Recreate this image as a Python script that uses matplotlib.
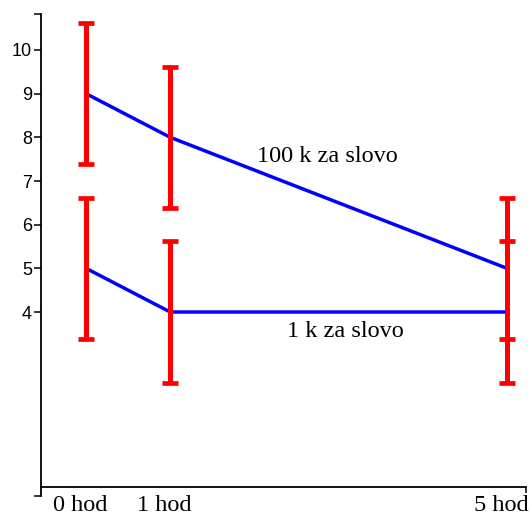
import matplotlib
matplotlib.use("Agg")
import matplotlib.pyplot as plt
import matplotlib.transforms as mtransforms

# data
hours = [0, 1, 5]
hour_labels = ["0 hod", "1 hod", "5 hod"]
mean_100k = [9, 8, 5]
err_100k = [1.62, 1.62, 1.62]
mean_1k = [5, 4, 4]
err_1k = [1.62, 1.62, 1.62]
y_ticks = [4, 5, 6, 7, 8, 9, 10]

fig = plt.figure(figsize=(5.32, 5.18), dpi=100)
xlo, xhi = -0.535, 5.25
ylo, yhi = -0.25, 10.85
left = 41 / 532
right = (86 + xhi * 84.2) / 532
top = 1 - (50 - (yhi - 10) * 43.67) / 518
bottom = 1 - (312 + (4 - ylo) * 43.67) / 518
ax = fig.add_axes([left, bottom, right - left, top - bottom])
ax.set_xlim(xlo, xhi)
ax.set_ylim(ylo, yhi)

for m, e in [(mean_100k, err_100k), (mean_1k, err_1k)]:
    ax.plot(hours, m, color="blue", lw=2.5, zorder=2, solid_capstyle="butt")
    ax.errorbar(hours, m, yerr=e, fmt="none", ecolor="red", elinewidth=3.6,
                capsize=6, capthick=3.4, zorder=3)

ax.text(2.87, 7.55, "100 k za slovo", ha="center", va="center",
        family="Liberation Serif", fontsize=17.5)
ax.text(3.08, 3.56, "1 k za slovo", ha="center", va="center",
        family="Liberation Serif", fontsize=17.5)

# axes styling
for s in ["top", "right"]:
    ax.spines[s].set_visible(False)
ax.spines["left"].set_bounds(-0.21, 10.82)
ax.spines["left"].set_linewidth(1.3)
ax.spines["bottom"].set_position(("data", 0))
ax.spines["bottom"].set_bounds(xlo, 5.23)
ax.spines["bottom"].set_linewidth(1.3)

ax.set_yticks(y_ticks)
ax.set_yticklabels([str(v) for v in y_ticks], family="Liberation Sans", fontsize=13)
ax.set_yticks([-0.21, 10.82], minor=True)
ax.tick_params(axis="y", which="both", length=5, width=1.1, pad=1.5)

ax.set_xticks(hours)
ax.set_xticklabels(hour_labels, family="Liberation Serif", fontsize=17.5)
ax.set_xticks([5.23], minor=True)
ax.tick_params(axis="x", which="major", length=0, pad=6)
ax.tick_params(axis="x", which="minor", length=4.5, width=1.1)
shift = mtransforms.ScaledTranslation(-6 / 100, 0, fig.dpi_scale_trans)
for lab in ax.get_xticklabels():
    lab.set_transform(lab.get_transform() + shift)

fig.savefig("out.png", dpi=100)
